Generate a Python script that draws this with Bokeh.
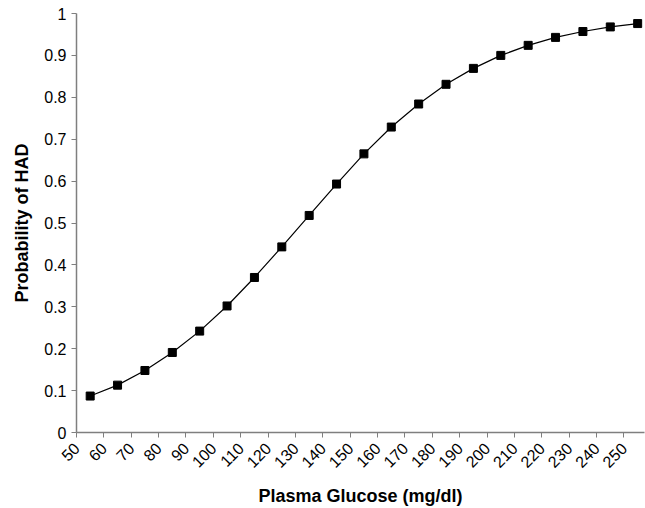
import math
from bokeh.plotting import figure
from bokeh.models import FixedTicker, CustomJSTickFormatter, Range1d
from bokeh.embed import file_html
from bokeh.resources import INLINE

glucose = [55, 65, 75, 85, 95, 105, 115, 125, 135, 145, 155, 165, 175, 185, 195,
           205, 215, 225, 235, 245, 255]
prob = [0.087, 0.113, 0.148, 0.191, 0.242, 0.302, 0.370, 0.443, 0.518, 0.593,
        0.665, 0.729, 0.784, 0.831, 0.869, 0.900, 0.924, 0.943, 0.957, 0.968, 0.976]
x_ticks = list(range(50, 251, 10))
y_ticks = [0, 0.1, 0.2, 0.3, 0.4, 0.5, 0.6, 0.7, 0.8, 0.9, 1.0]

p = figure(width=645, height=508, output_backend="svg", toolbar_location=None,
           x_range=Range1d(50, 257.5), y_range=Range1d(0, 1),
           min_border_left=76, min_border_right=1, min_border_top=13, min_border_bottom=72)
p.outline_line_color = None
p.xgrid.visible = False
p.ygrid.visible = False

p.line(glucose, prob, line_color="black", line_width=1.2)
p.scatter(glucose, prob, marker="square", size=8, fill_color="black", line_color="black")

font = "Liberation Sans"
for ax in (p.xaxis[0], p.yaxis[0]):
    ax.axis_line_color = "#7f7f7f"
    ax.axis_line_width = 1.5
    ax.major_tick_line_color = "#7f7f7f"
    ax.major_tick_in = 0
    ax.major_tick_out = 5
    ax.minor_tick_line_color = None
    ax.major_label_text_font = font
    ax.major_label_text_font_size = "16px"
    ax.major_label_text_color = "black"
    ax.axis_label_text_font = font
    ax.axis_label_text_font_size = "18px"
    ax.axis_label_text_font_style = "bold"
    ax.axis_label_text_color = "black"

p.xaxis.ticker = FixedTicker(ticks=x_ticks)
p.yaxis.ticker = FixedTicker(ticks=y_ticks)
p.yaxis.formatter = CustomJSTickFormatter(code="return String(Math.round(tick*10)/10);")
p.xaxis.major_label_orientation = math.pi / 4
p.xaxis.major_label_standoff = 8
p.xaxis.axis_label = "Plasma Glucose (mg/dl)"
p.yaxis.axis_label = "Probability of HAD"
p.xaxis.axis_label_standoff = 10
p.yaxis.axis_label_standoff = 9

open("out.html", "w").write(file_html(p, INLINE))
